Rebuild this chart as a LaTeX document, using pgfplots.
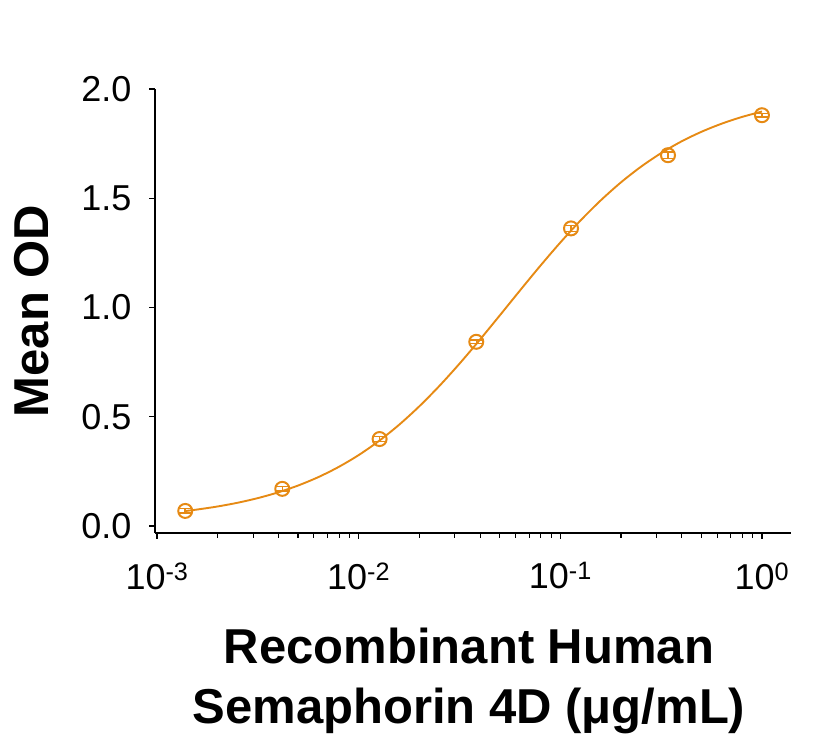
\documentclass[border=0pt]{standalone}
\usepackage{fontspec}
\setmainfont{Liberation Sans}
\usepackage{pgfplots}
\pgfplotsset{compat=1.18}
\definecolor{curveorange}{RGB}{230,138,20}
\begin{document}
\begin{tikzpicture}[x=1pt,y=1pt]
\path[use as bounding box] (0,0) rectangle (831,742);
\begin{axis}[
  at={(155pt,209pt)}, anchor=south west,
  scale only axis, width=636pt, height=444pt,
  xmode=log, xmin=0.000977, xmax=1.393,
  ymin=-0.032, ymax=2.0,
  axis x line*=bottom, axis y line*=left,
  axis line style={line width=1.3pt, black},
  tick align=outside,
  major tick length=6pt, minor tick length=5pt,
  every tick/.style={black, line width=1.1pt},
  xtick={0.001,0.01,0.1,1},
  xticklabels={10\textsuperscript{-3},10\textsuperscript{-2},10\textsuperscript{-1},10\textsuperscript{0}},
  ytick={0,0.5,1,1.5,2},
  /pgf/number format/fixed, /pgf/number format/fixed zerofill,
  /pgf/number format/precision=1, /pgf/number format/assume math mode=true,
  ticklabel style={font=\fontsize{36}{40}\selectfont},
  xticklabel style={yshift=-20pt},
  yticklabel style={xshift=-14pt},
  xlabel={Recombinant Human\\Semaphorin 4D (μg/mL)},
  xlabel style={at={(axis description cs:0.5,0)}, anchor=center, yshift=-148pt, xshift=-4pt, align=center, font=\fontsize{49}{60}\selectfont\bfseries},
  ylabel={Mean OD},
  ylabel style={at={(axis description cs:0,0.5)}, anchor=center, yshift=123pt, font=\fontsize{49}{60}\selectfont\bfseries},
  clip=false,
]
\addplot[curveorange, line width=1.9pt, smooth] coordinates {
(0.001380,0.0685) (0.001585,0.0755) (0.001995,0.0893) (0.002512,0.1065)
(0.003162,0.1277) (0.003981,0.1537) (0.005012,0.1854) (0.006310,0.2238)
(0.007943,0.2699) (0.01,0.3246) (0.012589,0.3888) (0.015849,0.4629)
(0.019953,0.5471) (0.025119,0.6408) (0.031623,0.7429) (0.039811,0.8514)
(0.050119,0.9640) (0.063096,1.0779) (0.079433,1.1899) (0.1,1.2974)
(0.12589,1.3980) (0.15849,1.4899) (0.19953,1.5721) (0.25119,1.6443)
(0.31623,1.7066) (0.39811,1.7597) (0.50119,1.8042) (0.63096,1.8412)
(0.79433,1.8718) (1,1.8968)
};
\addplot[curveorange, line width=2pt, only marks, mark=o, mark size=7pt,
  mark options={line width=2pt},
  error bars/.cd, y dir=both, y explicit,
  error bar style={line width=1.5pt},
  error mark options={rotate=90, mark size=6pt, line width=1.5pt}]
coordinates {
(0.00138,0.069) +- (0,0.010)
(0.00418,0.170) +- (0,0.010)
(0.0127,0.398) +- (0,0.012)
(0.0383,0.843) +- (0,0.008)
(0.1130,1.362) +- (0,0.014)
(0.3420,1.697) +- (0,0.014)
(1.0,1.880) +- (0,0.008)
};
\end{axis}
\end{tikzpicture}
\end{document}
